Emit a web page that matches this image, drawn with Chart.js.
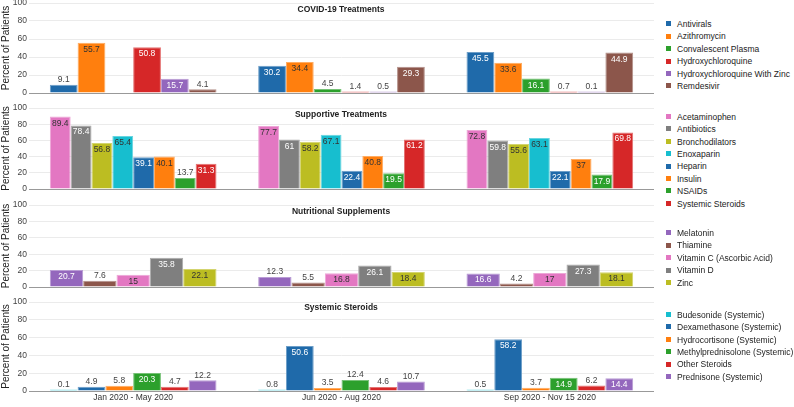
<!DOCTYPE html>
<html>
<head>
<meta charset="utf-8">
<script src="https://cdn.jsdelivr.net/npm/chart.js@4.4.1/dist/chart.umd.min.js"></script>
<style>
  body { margin: 0; background: #fff; font-family: "Liberation Sans", Arial, sans-serif; }
  #lienzo { position: relative; width: 794px; height: 407px; overflow: hidden; }
  .panel { position: absolute; left: 0; }
  .titulo { position: absolute; left: 29px; width: 624px; text-align: center; font-weight: bold;
            font-size: 8.5px; line-height: 10px; color: #222; }
  .leyenda { position: absolute; left: 666px; }
  .item { height: 12.4px; line-height: 12.4px; font-size: 8.5px; color: #222; white-space: nowrap; }
  .item span { display: inline-block; width: 5px; height: 5px; margin-right: 6px; vertical-align: middle;
               position: relative; top: -1px; }
</style>
</head>
<body>
<div id="lienzo"></div>
<script>
// Datos
const categorias = ['Jan 2020 - May 2020', 'Jun 2020 - Aug 2020', 'Sep 2020 - Nov 15 2020'];
const ticksY = [0, 20, 40, 60, 80, 100];

const covidSeries = ['Antivirals', 'Azithromycin', 'Convalescent Plasma', 'Hydroxychloroquine',
  'Hydroxychloroquine With Zinc', 'Remdesivir'];
const covidValores = [
  [9.1, 30.2, 45.5],
  [55.7, 34.4, 33.6],
  [null, 4.5, 16.1],
  [50.8, 1.4, 0.7],
  [15.7, 0.5, 0.1],
  [4.1, 29.3, 44.9]
];

const soporteSeries = ['Acetaminophen', 'Antibiotics', 'Bronchodilators', 'Enoxaparin', 'Heparin',
  'Insulin', 'NSAIDs', 'Systemic Steroids'];
const soporteValores = [
  [89.4, 77.7, 72.8],
  [78.4, 61, 59.8],
  [56.8, 58.2, 55.6],
  [65.4, 67.1, 63.1],
  [39.1, 22.4, 22.1],
  [40.1, 40.8, 37],
  [13.7, 19.5, 17.9],
  [31.3, 61.2, 69.8]
];

const nutricionSeries = ['Melatonin', 'Thiamine', 'Vitamin C (Ascorbic Acid)', 'Vitamin D', 'Zinc'];
const nutricionValores = [
  [20.7, 12.3, 16.6],
  [7.6, 5.5, 4.2],
  [15, 16.8, 17],
  [35.8, 26.1, 27.3],
  [22.1, 18.4, 18.1]
];

const esteroidesSeries = ['Budesonide (Systemic)', 'Dexamethasone (Systemic)', 'Hydrocortisone (Systemic)',
  'Methylprednisolone (Systemic)', 'Other Steroids', 'Prednisone (Systemic)'];
const esteroidesValores = [
  [0.1, 0.8, 0.5],
  [4.9, 50.6, 58.2],
  [5.8, 3.5, 3.7],
  [20.3, 12.4, 14.9],
  [4.7, 4.6, 6.2],
  [12.2, 10.7, 14.4]
];

// Paleta
const AZUL = '#1f6aaa', NARANJA = '#ff7f0e', VERDE = '#2ca02c', ROJO = '#d62728', MORADO = '#9467bd',
  MARRON = '#8c564b', ROSA = '#e377c2', GRIS = '#7f7f7f', OLIVA = '#bcbd22', CIAN = '#17becf';
const CLAROS = [NARANJA, OLIVA, CIAN, ROSA];

const FUENTE = '"Liberation Sans", Arial, sans-serif';

function aclarar(hex, f) {
  const n = parseInt(hex.slice(1), 16);
  const c = [(n >> 16) & 255, (n >> 8) & 255, n & 255].map(v => Math.round(v + (255 - v) * f));
  return `rgb(${c[0]}, ${c[1]}, ${c[2]})`;
}

// Etiquetas de valor sobre / dentro de las barras
const etiquetasPlugin = {
  id: 'etiquetas',
  afterDatasetsDraw(chart) {
    const ctx = chart.ctx;
    ctx.save();
    ctx.font = `8.5px ${FUENTE}`;
    ctx.textAlign = 'center';
    ctx.textBaseline = 'alphabetic';
    chart.data.datasets.forEach((ds, i) => {
      const meta = chart.getDatasetMeta(i);
      meta.data.forEach((bar, j) => {
        const v = ds.data[j];
        if (v === null || v === undefined) return;
        const alto = bar.base - bar.y;
        if (alto >= 11.4) {
          ctx.fillStyle = CLAROS.includes(ds.colorBase) ? '#333' : '#fff';
          ctx.fillText(String(v), bar.x, bar.y + 9);
        } else {
          ctx.fillStyle = '#444';
          ctx.fillText(String(v), bar.x, bar.y - 2.5);
        }
      });
    });
    ctx.restore();
  }
};

const paneles = [
  { titulo: 'COVID-19 Treatments', series: covidSeries, valores: covidValores,
    colores: [AZUL, NARANJA, VERDE, ROJO, MORADO, MARRON],
    top: 3, bottom: 93, tituloY: 9, leyendaY: 24.3, ejeX: false },
  { titulo: 'Supportive Treatments', series: soporteSeries, valores: soporteValores,
    colores: [ROSA, GRIS, OLIVA, CIAN, AZUL, NARANJA, VERDE, ROJO],
    top: 108, bottom: 189, tituloY: 114, leyendaY: 117, ejeX: false },
  { titulo: 'Nutritional Supplements', series: nutricionSeries, valores: nutricionValores,
    colores: [MORADO, MARRON, ROSA, GRIS, OLIVA],
    top: 205, bottom: 287, tituloY: 211, leyendaY: 233.3, ejeX: false },
  { titulo: 'Systemic Steroids', series: esteroidesSeries, valores: esteroidesValores,
    colores: [CIAN, AZUL, NARANJA, VERDE, ROJO, MORADO],
    top: 302, bottom: 391, tituloY: 307, leyendaY: 315, ejeX: true }
];

function crearPanel(p) {
  const lienzo = document.getElementById('lienzo');
  const altoArea = p.bottom - p.top;
  const altoCanvas = p.ejeX ? 407 - (p.top - 8) : altoArea + 16;

  const div = document.createElement('div');
  div.className = 'panel';
  div.style.top = (p.top - 8) + 'px';
  const canvas = document.createElement('canvas');
  canvas.width = 654;
  canvas.height = altoCanvas;
  div.appendChild(canvas);
  lienzo.appendChild(div);

  new Chart(canvas, {
    type: 'bar',
    data: {
      labels: categorias,
      datasets: p.series.map((nombre, i) => ({
        label: nombre,
        data: p.valores[i],
        colorBase: p.colores[i],
        backgroundColor: p.colores[i],
        borderColor: aclarar(p.colores[i], 0.35),
        borderWidth: 1,
        minBarLength: 1.5,
        categoryPercentage: 0.8,
        barPercentage: 1.0
      }))
    },
    options: {
      responsive: false,
      animation: false,
      layout: { padding: { top: 8, bottom: p.ejeX ? 0 : 8, left: 0, right: 0 } },
      plugins: { legend: { display: false }, tooltip: { enabled: false } },
      scales: {
        x: {
          grid: { display: false, drawTicks: false },
          border: { display: true, color: '#999', width: 1 },
          ticks: { display: p.ejeX, padding: 2, color: '#333', font: { family: FUENTE, size: 8.5 } },
          afterFit: (s) => { s.height = p.ejeX ? 16 : 0; }
        },
        y: {
          min: 0,
          max: 100,
          afterBuildTicks: (s) => { s.ticks = ticksY.map(v => ({ value: v })); },
          grid: {
            drawTicks: false,
            color: (c) => (c.tick && c.tick.value === 0 ? '#999' : '#ebebeb')
          },
          border: { display: false },
          ticks: { padding: 2, color: '#444', font: { family: FUENTE, size: 8.5 } },
          title: {
            display: true,
            text: 'Percent of Patients',
            color: '#222',
            padding: 0,
            font: { family: FUENTE, size: 10 }
          },
          afterFit: (s) => { s.width = 29; }
        }
      }
    },
    plugins: [etiquetasPlugin]
  });

  // Titulo dentro del area del grafico
  const titulo = document.createElement('div');
  titulo.className = 'titulo';
  titulo.style.top = (p.tituloY - 5) + 'px';
  titulo.textContent = p.titulo;
  lienzo.appendChild(titulo);

  // Leyenda a la derecha
  const leyenda = document.createElement('div');
  leyenda.className = 'leyenda';
  leyenda.style.top = (p.leyendaY - 6.2) + 'px';
  leyenda.innerHTML = p.series.map((nombre, i) =>
    `<div class="item"><span style="background:${p.colores[i]}"></span>${nombre}</div>`
  ).join('');
  lienzo.appendChild(leyenda);
}

paneles.forEach(crearPanel);
</script>
</body>
</html>
